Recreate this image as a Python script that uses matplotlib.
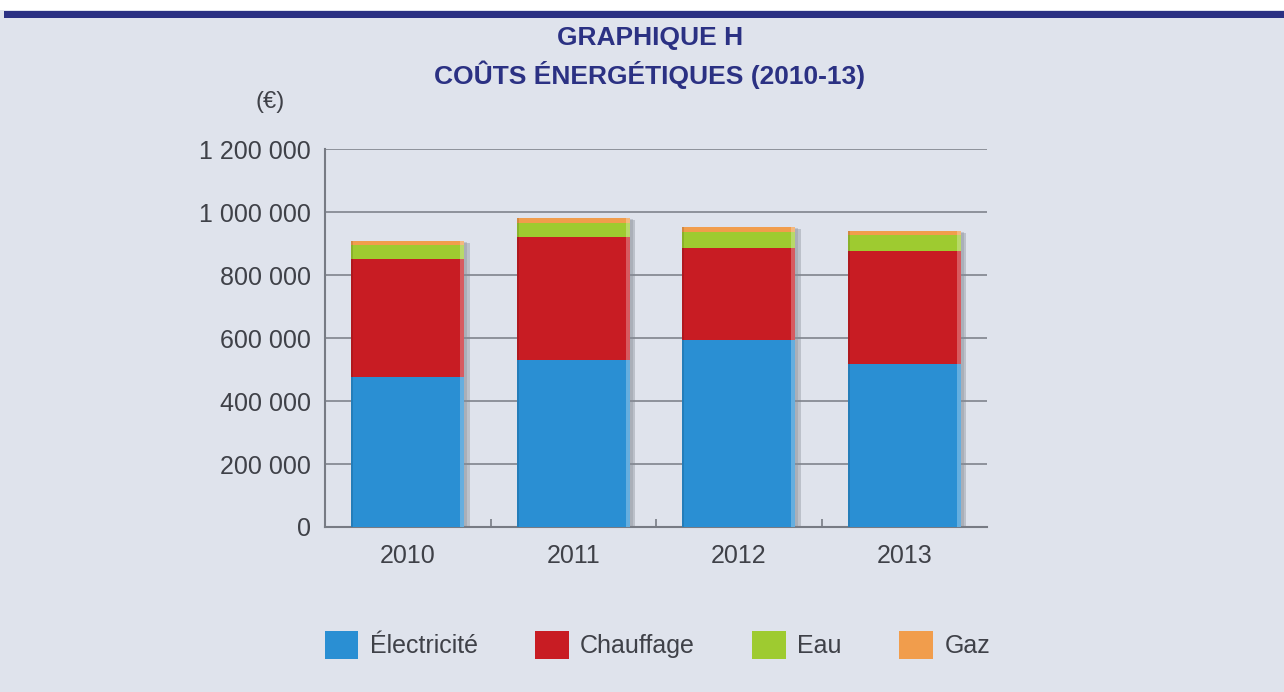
import matplotlib
matplotlib.use("Agg")
import matplotlib.pyplot as plt
import numpy as np
from matplotlib.patches import Rectangle, Patch
from matplotlib.ticker import FuncFormatter, FixedLocator

# --- data (EUR) ---
years = ["2010", "2011", "2012", "2013"]
electricite = [477000, 532000, 594000, 518000]
chauffage = [376000, 388000, 294000, 360000]
eau = [43000, 47000, 50000, 49000]
gaz = [13000, 15000, 14000, 14000]

series = [
    ("Électricité", electricite, "#2a8fd3"),
    ("Chauffage", chauffage, "#c81c23"),
    ("Eau", eau, "#9ecb30"),
    ("Gaz", gaz, "#f19d4c"),
]

BG = "#dfe3ec"
NAVY = "#2b3183"
TXT = "#3f4148"
GRID = "#777b84"

plt.rcParams["font.family"] = ["Liberation Sans", "DejaVu Sans"]

fig = plt.figure(figsize=(12.84, 6.92), dpi=100, facecolor=BG)

# white strip and navy band at the top
fig.patches.append(Rectangle((0, 1 - 10 / 692), 1, 10 / 692, transform=fig.transFigure,
                             facecolor="white", edgecolor="none", zorder=0))
fig.patches.append(Rectangle((4 / 1284, 1 - 18 / 692), 1, 7 / 692, transform=fig.transFigure,
                             facecolor=NAVY, edgecolor="none", zorder=0))

ax = fig.add_axes([325 / 1284, 1 - 527 / 692, 662 / 1284, (527 - 149.3) / 692])
ax.set_facecolor("none")

x = np.arange(len(years)) + 0.5
width = 0.68
bottom = np.zeros(len(years))
totals = np.sum([s[1] for s in series], axis=0)

# soft drop shadow behind each stack
ax.bar(x + 0.035, totals, width, bottom=-6000, color="#7d828c", alpha=0.35,
       edgecolor="none", zorder=2)
ax.bar(x + 0.02, totals, width, bottom=-3000, color="#8a8f99", alpha=0.35,
       edgecolor="none", zorder=2)

for label, vals, color in series:
    vals = np.array(vals)
    ax.bar(x, vals, width, bottom=bottom, color=color, edgecolor="none", zorder=3)
    # bevel: darker left edge, lighter right edge
    ax.bar(x - width / 2 + 0.006, vals, 0.012, bottom=bottom, color="black", alpha=0.12,
           edgecolor="none", zorder=4)
    ax.bar(x + width / 2 - 0.012, vals, 0.024, bottom=bottom, color="white", alpha=0.28,
           edgecolor="none", zorder=4)
    bottom += vals

ax.set_xlim(0, 4)
ax.set_ylim(0, 1200000)
ax.yaxis.set_major_locator(FixedLocator(np.arange(0, 1200001, 200000)))
ax.yaxis.set_major_formatter(FuncFormatter(lambda v, p: f"{int(v):,}".replace(",", " ")))
ax.grid(axis="y", color=GRID, lw=1.1, zorder=1)
ax.set_axisbelow(True)

ax.set_xticks(x)
ax.set_xticklabels(years)
ax.set_xticks([1, 2, 3], minor=True)
ax.tick_params(axis="x", which="major", length=0, pad=12, labelsize=18, colors=TXT)
ax.tick_params(axis="x", which="minor", length=6, direction="in", color=GRID, width=1.2)
ax.tick_params(axis="y", length=0, pad=10, labelsize=18, colors=TXT)

for s in ["top", "right"]:
    ax.spines[s].set_visible(False)
for s in ["left", "bottom"]:
    ax.spines[s].set_color(GRID)
    ax.spines[s].set_linewidth(1.5)

fig.text(0.506, 1 - 38 / 692, "GRAPHIQUE H", ha="center", va="center",
         fontsize=19, fontweight="bold", color=NAVY)
fig.text(0.506, 1 - 75 / 692, "COÛTS ÉNERGÉTIQUES (2010-13)", ha="center", va="center",
         fontsize=19, fontweight="bold", color=NAVY)
fig.text(270 / 1284, 1 - 102 / 692, "(€)", ha="center", va="center", fontsize=17, color=TXT)

handles = [Patch(facecolor=c, edgecolor="none", label=l) for l, _, c in series]
leg = fig.legend(handles=handles, loc="center", bbox_to_anchor=(0.512, 1 - 645 / 692),
                 ncol=4, frameon=False, fontsize=18, handlelength=1.35, handleheight=1.35,
                 handletextpad=0.45, columnspacing=2.3)
for t in leg.get_texts():
    t.set_color(TXT)

fig.savefig("out.png", dpi=100, facecolor=fig.get_facecolor())
